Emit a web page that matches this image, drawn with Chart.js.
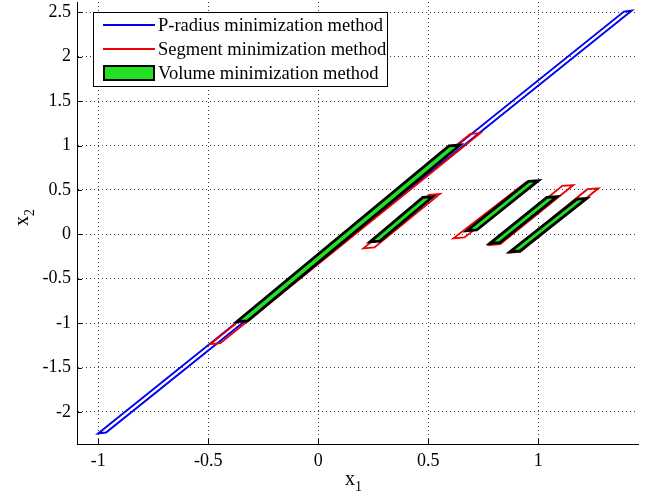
<!DOCTYPE html>
<html>
<head>
<meta charset="utf-8">
<script src="https://cdn.jsdelivr.net/npm/chart.js@4/dist/chart.umd.min.js"></script>
<style>
  html, body { margin: 0; padding: 0; background: #fff; }
  #wrap { width: 654px; height: 493px; }
</style>
</head>
<body>
<div id="wrap"><canvas id="chart" width="654" height="493"></canvas></div>
<script>
// tick values
const xTicks = [-1, -0.5, 0, 0.5, 1];
const yTicks = [-2, -1.5, -1, -0.5, 0, 0.5, 1, 1.5, 2, 2.5];

// P-radius method: one closed outline
const pRadiusX = [-1.0, -0.965, 1.424, 1.389, -1.0];
const pRadiusY = [-2.241, -2.231, 2.518, 2.508, -2.241];

// Segment method: one closed outline per set
const segmentX = [
  [-0.49, -0.445, 0.736, 0.691, -0.49],
  [0.205, 0.255, 0.553, 0.503, 0.205],
  [0.614, 0.664, 0.995, 0.945, 0.614],
  [0.777, 0.827, 1.159, 1.109, 0.777],
  [0.868, 0.918, 1.273, 1.223, 0.868]
];
const segmentY = [
  [-1.236, -1.226, 1.14, 1.13, -1.236],
  [-0.158, -0.148, 0.454, 0.444, -0.158],
  [-0.045, -0.035, 0.598, 0.588, -0.045],
  [-0.12, -0.11, 0.555, 0.545, -0.12],
  [-0.207, -0.197, 0.518, 0.508, -0.207]
];

// Volume method: filled sets
const volumeX = [
  [-0.371, -0.321, 0.644, 0.594, -0.371],
  [0.235, 0.28, 0.52, 0.475, 0.235],
  [0.675, 0.72, 1.0, 0.955, 0.675],
  [0.78, 0.825, 1.084, 1.039, 0.78],
  [0.871, 0.916, 1.22, 1.175, 0.871]
];
const volumeY = [
  [-0.984, -0.974, 1.006, 0.996, -0.984],
  [-0.085, -0.077, 0.423, 0.415, -0.085],
  [0.041, 0.049, 0.604, 0.596, 0.041],
  [-0.101, -0.093, 0.423, 0.415, -0.101],
  [-0.196, -0.188, 0.405, 0.397, -0.196]
];

const legendLabels = ['P-radius minimization method', 'Segment minimization method', 'Volume minimization method'];

const BLUE = '#0000f0';
const RED = '#f00000';
const GREEN = '#22e022';
const FONT = '"Liberation Serif", "Times New Roman", serif';

// closed outline -> points (repeat 2nd vertex so the first corner gets a join)
function toPoints(xs, ys) {
  const pts = xs.map((x, i) => ({ x: x, y: ys[i] }));
  pts.push({ x: xs[1], y: ys[1] });
  return pts;
}

const datasets = [];
datasets.push({
  label: legendLabels[0],
  data: toPoints(pRadiusX, pRadiusY),
  borderColor: BLUE, borderWidth: 2, order: 3
});
segmentX.forEach((xs, i) => {
  datasets.push({
    label: legendLabels[1],
    data: toPoints(xs, segmentY[i]),
    borderColor: RED, borderWidth: 1.8, order: 2
  });
});
volumeX.forEach((xs, i) => {
  datasets.push({
    label: legendLabels[2],
    data: toPoints(xs, volumeY[i]),
    borderColor: '#000', backgroundColor: GREEN, borderWidth: 2.8,
    fill: 'shape', order: 1
  });
});
datasets.forEach(d => {
  d.showLine = true;
  d.pointRadius = 0;
  d.tension = 0;
  d.borderJoinStyle = 'miter';
  if (!d.fill) d.fill = false;
});

// MATLAB-like decorations: inward ticks, axis labels with subscripts, legend box
const matlabAxes = {
  id: 'matlabAxes',
  afterDraw(chart) {
    const ctx = chart.ctx;
    const area = chart.chartArea;
    const xs = chart.scales.x, ys = chart.scales.y;
    ctx.save();
    ctx.strokeStyle = '#000';
    ctx.lineWidth = 1;
    ctx.beginPath();
    xTicks.forEach(v => {
      const px = Math.round(xs.getPixelForValue(v)) + 0.5;
      ctx.moveTo(px, area.bottom);
      ctx.lineTo(px, area.bottom - 5);
    });
    yTicks.forEach(v => {
      const py = Math.round(ys.getPixelForValue(v)) + 0.5;
      ctx.moveTo(area.left, py);
      ctx.lineTo(area.left + 5, py);
    });
    ctx.stroke();

    // axis labels
    ctx.fillStyle = '#000';
    ctx.textBaseline = 'alphabetic';
    ctx.textAlign = 'left';
    ctx.font = '20px ' + FONT;
    ctx.fillText('x', 345, 485);
    ctx.font = '14px ' + FONT;
    ctx.fillText('1', 355, 491);

    ctx.save();
    ctx.translate(28, 226);
    ctx.rotate(-Math.PI / 2);
    ctx.font = '20px ' + FONT;
    ctx.fillText('x', 0, 0);
    ctx.font = '14px ' + FONT;
    ctx.fillText('2', 10, 6);
    ctx.restore();

    // legend
    const bx = 93.5, by = 12.5, bw = 294, bh = 74;
    ctx.fillStyle = '#fff';
    ctx.fillRect(bx, by, bw, bh);
    ctx.strokeStyle = '#000';
    ctx.lineWidth = 1;
    ctx.strokeRect(bx, by, bw, bh);
    const rows = [25, 49, 73];
    ctx.lineWidth = 2;
    ctx.strokeStyle = BLUE;
    ctx.beginPath(); ctx.moveTo(103, rows[0]); ctx.lineTo(155, rows[0]); ctx.stroke();
    ctx.strokeStyle = RED;
    ctx.beginPath(); ctx.moveTo(103, rows[1]); ctx.lineTo(155, rows[1]); ctx.stroke();
    ctx.fillStyle = GREEN;
    ctx.fillRect(104, rows[2] - 7, 50, 14);
    ctx.strokeStyle = '#000';
    ctx.lineWidth = 2;
    ctx.strokeRect(104, rows[2] - 7, 50, 14);
    ctx.fillStyle = '#000';
    ctx.font = '18.5px ' + FONT;
    ctx.textBaseline = 'middle';
    legendLabels.forEach((t, i) => ctx.fillText(t, 158, rows[i] + 1));
    ctx.restore();
  }
};

new Chart(document.getElementById('chart'), {
  type: 'scatter',
  data: { datasets: datasets },
  options: {
    responsive: false,
    animation: false,
    events: [],
    layout: { padding: { top: 2, right: 16, left: 0, bottom: 0 } },
    plugins: {
      legend: { display: false },
      tooltip: { enabled: false }
    },
    scales: {
      x: {
        type: 'linear',
        min: -1.097,
        max: 1.453,
        afterBuildTicks: s => { s.ticks = xTicks.map(v => ({ value: v })); },
        afterFit: s => { s.height = 49; s.paddingLeft = 0; s.paddingRight = 0; },
        grid: { color: 'rgba(0,0,0,0.75)', lineWidth: 1, drawTicks: false },
        border: { display: true, color: '#000', width: 1, dash: [1, 3] },
        ticks: {
          color: '#000', padding: 6, maxRotation: 0,
          font: { family: FONT, size: 18 },
          callback: v => String(v)
        }
      },
      y: {
        type: 'linear',
        min: -2.361,
        max: 2.616,
        afterBuildTicks: s => { s.ticks = yTicks.map(v => ({ value: v })); },
        afterFit: s => { s.width = 77; s.paddingTop = 0; s.paddingBottom = 0; },
        grid: { color: 'rgba(0,0,0,0.75)', lineWidth: 1, drawTicks: false },
        border: { display: true, color: '#000', width: 1, dash: [1, 3] },
        ticks: {
          color: '#000', padding: 6,
          font: { family: FONT, size: 18 },
          callback: v => String(v)
        }
      }
    }
  },
  plugins: [matlabAxes]
});
</script>
</body>
</html>
